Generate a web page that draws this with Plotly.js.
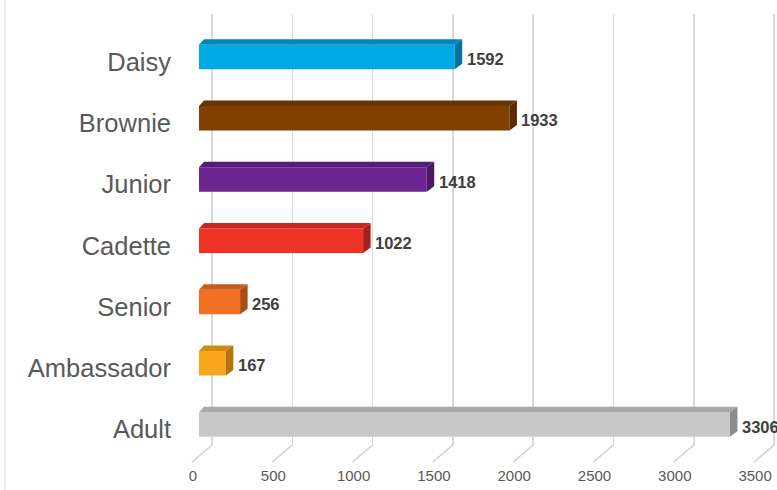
<!DOCTYPE html>
<html>
<head>
<meta charset="utf-8">
<script src="https://cdn.plot.ly/plotly-3.0.1.min.js"></script>
<style>html,body{margin:0;padding:0;background:#fff;}#chart{width:777px;height:490px;}</style>
</head>
<body>
<div id="chart"></div>
<script>
// ---- data ----
const categories = ['Daisy', 'Brownie', 'Junior', 'Cadette', 'Senior', 'Ambassador', 'Adult'];
const values = [1592, 1933, 1418, 1022, 256, 167, 3306];
const frontColors = ['#00A8E4', '#7F4000', '#6C2590', '#EE3226', '#F26F22', '#F9A61C', '#C8C8C8'];
const topColors   = ['#0088BA', '#693400', '#571D76', '#C4281E', '#C85B1B', '#D18A14', '#A8A8A8'];
const sideColors  = ['#00739C', '#582B00', '#4A1864', '#A62219', '#A94C16', '#B07410', '#8C8C8C'];
const xTicks = [0, 500, 1000, 1500, 2000, 2500, 3000, 3500];

// ---- geometry (pixels) ----
const W = 777, H = 490;
const PLOT_L = 180, PLOT_T = 14, PLOT_B = 445;
const ZERO_PX = 199;          // front plane zero
const GRID_SHIFT = 13;        // back plane offset
const PX = 0.1606;            // px per unit on x
const YPX = 61.25;            // px per category
const FIRST_CENTER = 57;
const plotH = PLOT_B - PLOT_T;

const xRange = [-(ZERO_PX - PLOT_L) / PX, (W - ZERO_PX) / PX];
const x2Range = [xRange[0] - GRID_SHIFT / PX, xRange[1] - GRID_SHIFT / PX];
const yRange = [(PLOT_B - FIRST_CENTER) / YPX, (PLOT_T - FIRST_CENTER) / YPX];

const half = 0.2;
const dxR = 7.5 / PX, dxL = 5 / PX, dyU = 5.5 / YPX;
const idx = categories.map((c, i) => i);

const traces = [];
traces.push({
  type: 'bar', orientation: 'h', x: values, y: idx, width: half * 2,
  marker: {color: frontColors, line: {width: 0}}, hoverinfo: 'skip'
});
values.forEach((v, i) => {
  const ft = i - half, fb = i + half, bt = ft - dyU, bb = fb - dyU;
  traces.push({
    type: 'scatter', mode: 'lines', fill: 'toself', fillcolor: topColors[i],
    line: {width: 0, color: topColors[i]}, hoverinfo: 'skip',
    x: [0, v, v + dxR, dxL, 0], y: [ft, ft, bt, bt, ft]
  });
  traces.push({
    type: 'scatter', mode: 'lines', fill: 'toself', fillcolor: sideColors[i],
    line: {width: 0, color: sideColors[i]}, hoverinfo: 'skip',
    x: [v, v + dxR, v + dxR, v, v], y: [ft, bt, bb, fb, ft]
  });
});
// dummy trace so the back-plane grid axis is drawn
traces.push({type: 'scatter', x: [0], y: [0], xaxis: 'x2', mode: 'markers',
  marker: {opacity: 0}, hoverinfo: 'skip'});

const annotations = values.map((v, i) => ({
  x: v, y: i, xref: 'x', yref: 'y', text: String(v), showarrow: false,
  xanchor: 'left', yanchor: 'middle', xshift: 10, yshift: -2,
  font: {family: 'Liberation Sans, Arial, sans-serif', size: 16.5, color: '#404040', weight: 'bold'}
}));

const shapes = xTicks.map(t => ({
  type: 'line', xref: 'x2', yref: 'paper',
  x0: t, y0: 0, x1: t - 20 / PX, y1: -17 / plotH,
  line: {color: '#cfcfcf', width: 1.5}
}));
shapes.push({
  type: 'line', xref: 'paper', yref: 'paper',
  x0: (5 - PLOT_L) / (W - PLOT_L), x1: (5 - PLOT_L) / (W - PLOT_L), y0: -1, y1: 2,
  line: {color: '#d9d9d9', width: 1}
});

const layout = {
  width: W, height: H,
  margin: {l: PLOT_L, r: 0, t: PLOT_T, b: H - PLOT_B, pad: 0},
  paper_bgcolor: '#ffffff', plot_bgcolor: 'rgba(0,0,0,0)',
  showlegend: false, hovermode: false,
  font: {family: 'Liberation Sans, Arial, sans-serif'},
  xaxis: {
    range: xRange, tickvals: xTicks, ticktext: xTicks.map(String),
    showgrid: false, zeroline: false, showline: false, ticks: '',
    tickfont: {size: 15, color: '#595959'},
    ticklabelshift: -6, ticklabelstandoff: 20, fixedrange: true
  },
  xaxis2: {
    overlaying: 'x', anchor: 'y', range: x2Range, tickvals: xTicks,
    showticklabels: false, showgrid: true, gridcolor: '#d9d9d9', gridwidth: 1.5,
    zeroline: false, showline: false, ticks: '', fixedrange: true
  },
  yaxis: {
    range: yRange, tickvals: idx, ticktext: categories,
    showgrid: false, zeroline: false, showline: false, ticks: '',
    tickfont: {size: 25.5, color: '#595959'},
    ticklabelstandoff: 8, ticklabelshift: -5, fixedrange: true
  },
  annotations: annotations,
  shapes: shapes
};

Plotly.newPlot('chart', traces, layout, {displayModeBar: false, staticPlot: true});
</script>
</body>
</html>
